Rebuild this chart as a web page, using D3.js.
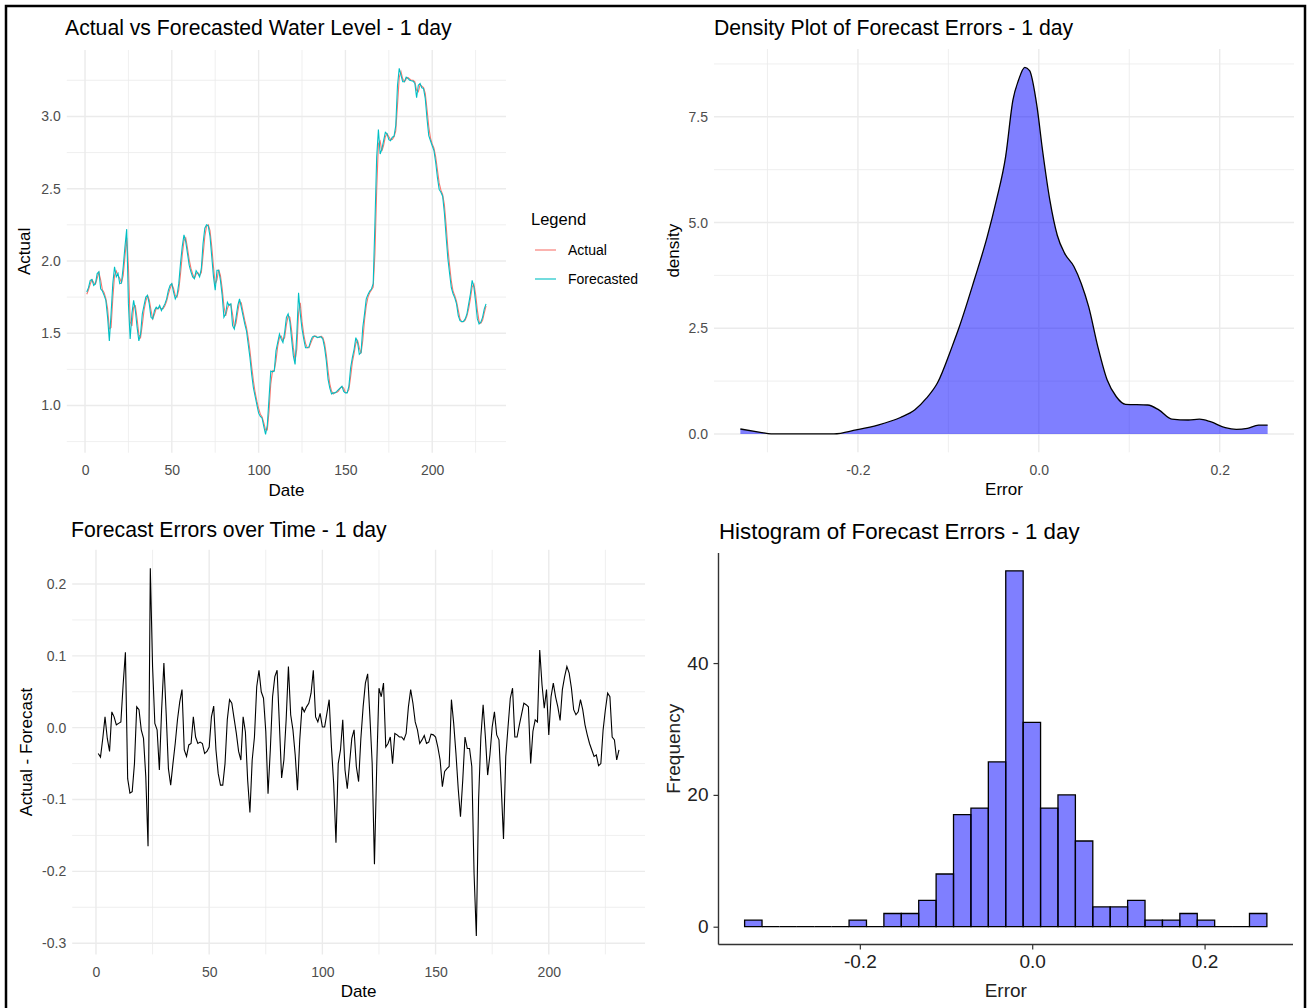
<!DOCTYPE html>
<html>
<head>
<meta charset="utf-8">
<script src="https://cdn.jsdelivr.net/npm/d3@7"></script>
<style>
  html, body { margin: 0; padding: 0; background: #fff; }
  svg { display: block; font-family: "Liberation Sans", Arial, sans-serif; }
</style>
</head>
<body>
<svg id="chart" width="1311" height="1008"></svg>
<script>
// ---- data ---------------------------------------------------------------
// Forecasted water level, days 1..231
const forecast = [
  1.785,1.815,1.866,1.871,1.831,1.843,1.913,1.925,1.808,1.792,
  1.762,1.727,1.61,1.447,1.634,1.843,1.96,1.89,1.913,1.843,
  1.848,1.96,2.10,2.22,1.703,1.46,1.634,1.727,1.657,1.54,
  1.447,1.494,1.634,1.692,1.75,1.762,1.703,1.61,1.599,1.657,
  1.68,1.669,1.692,1.657,1.68,1.703,1.738,1.797,1.831,1.843,
  1.785,1.738,1.762,1.843,1.983,2.10,2.181,2.134,2.053,1.971,
  1.925,1.89,1.878,1.932,1.913,1.89,1.948,2.122,2.227,2.25,
  2.243,2.169,2.029,1.89,1.797,1.936,1.936,1.866,1.762,1.61,
  1.634,1.715,1.692,1.703,1.552,1.529,1.61,1.692,1.738,1.68,
  1.622,1.564,1.517,1.424,1.331,1.215,1.121,1.063,1.005,0.947,
  0.924,0.912,0.854,0.80,0.865,1.052,1.238,1.233,1.238,1.378,
  1.436,1.494,1.459,1.436,1.506,1.61,1.634,1.58,1.459,1.343,
  1.284,1.494,1.78,1.634,1.529,1.459,1.40,1.40,1.405,1.447,
  1.475,1.48,1.475,1.47,1.475,1.475,1.459,1.40,1.308,1.18,
  1.121,1.08,1.087,1.087,1.098,1.11,1.121,1.133,1.098,1.087,
  1.087,1.133,1.261,1.331,1.389,1.47,1.436,1.354,1.366,1.54,
  1.634,1.738,1.768,1.792,1.806,1.843,2.262,2.716,2.91,2.74,
  2.774,2.832,2.89,2.879,2.839,2.832,2.856,2.863,2.937,3.216,
  3.333,3.286,3.24,3.24,3.272,3.263,3.251,3.247,3.244,3.228,
  3.13,3.216,3.228,3.198,3.193,3.123,2.984,2.867,2.832,2.797,
  2.763,2.681,2.576,2.495,2.476,2.448,2.332,2.169,2.018,1.913,
  1.815,1.773,1.745,1.703,1.622,1.587,1.58,1.582,1.599,1.634,
  1.703,1.773,1.866,1.82,1.715,1.599,1.564,1.576,1.61,1.668,
  1.703
];

// Observed water level, days 1..231
const actual = [
  1.77,1.80,1.84,1.87,1.85,1.84,1.88,1.92,1.87,1.80,
  1.78,1.74,1.67,1.53,1.54,1.74,1.90,1.93,1.90,1.88,
  1.85,1.90,2.03,2.16,1.96,1.58,1.55,1.68,1.69,1.60,
  1.49,1.47,1.56,1.66,1.72,1.76,1.73,1.66,1.60,1.63,
  1.67,1.67,1.68,1.67,1.67,1.69,1.72,1.77,1.81,1.84,
  1.81,1.76,1.75,1.80,1.91,2.04,2.14,2.16,2.09,2.01,
  1.95,1.91,1.88,1.91,1.92,1.90,1.92,2.04,2.17,2.24,
  2.25,2.21,2.10,1.96,1.84,1.87,1.94,1.90,1.81,1.69,
  1.62,1.67,1.70,1.70,1.63,1.54,1.57,1.65,1.72,1.71,
  1.65,1.59,1.54,1.47,1.38,1.27,1.17,1.09,1.03,0.98,
  0.94,0.92,0.88,0.83,0.83,0.96,1.15,1.24,1.24,1.31,
  1.41,1.47,1.48,1.45,1.47,1.56,1.62,1.61,1.52,1.40,
  1.31,1.39,1.64,1.71,1.58,1.49,1.43,1.40,1.40,1.43,
  1.46,1.48,1.48,1.47,1.47,1.48,1.47,1.43,1.35,1.24,
  1.15,1.10,1.08,1.09,1.09,1.10,1.12,1.13,1.12,1.09,
  1.09,1.11,1.20,1.30,1.36,1.43,1.45,1.40,1.36,1.45,
  1.59,1.69,1.75,1.78,1.80,1.82,2.05,2.49,2.81,2.83,
  2.76,2.80,2.86,2.88,2.86,2.84,2.84,2.86,2.90,3.08,
  3.27,3.31,3.26,3.24,3.26,3.27,3.26,3.25,3.25,3.24,
  3.18,3.17,3.22,3.21,3.20,3.16,3.05,2.93,2.85,2.81,
  2.78,2.72,2.63,2.54,2.49,2.46,2.39,2.25,2.09,1.97,
  1.86,1.79,1.76,1.72,1.66,1.60,1.58,1.58,1.59,1.62,
  1.67,1.74,1.82,1.84,1.77,1.66,1.58,1.57,1.59,1.64,
  1.69
];

// Actual - Forecast, days 1..231
const errors = [
  -0.036,-0.041,-0.015,0.015,-0.015,-0.033,0.022,0.015,0.004,0.006,
  0.008,0.06,0.105,-0.071,-0.091,-0.089,-0.05,0.029,0.025,-0.003,
  -0.015,-0.068,-0.165,0.222,0.085,0.006,-0.003,-0.059,0.025,0.09,
  0.02,-0.057,-0.08,-0.05,-0.022,0.011,0.036,0.053,-0.031,-0.04,
  -0.024,-0.022,0.015,-0.013,-0.022,-0.02,-0.022,-0.036,-0.033,-0.027,
  0.015,0.03,-0.031,-0.064,-0.08,-0.08,-0.05,0.011,0.039,0.034,
  0.013,-0.008,-0.033,-0.045,0.015,-0.006,-0.073,-0.118,-0.045,-0.013,
  0.057,0.08,0.05,0.041,-0.005,-0.092,-0.031,0.043,0.071,0.08,
  0.006,-0.07,-0.045,0.011,0.085,0.018,-0.003,-0.038,-0.087,-0.017,
  0.029,0.022,0.029,0.034,0.048,0.08,0.015,0.008,0.02,0.001,
  0.001,0.02,0.039,-0.027,-0.078,-0.16,-0.05,-0.031,0.011,-0.059,
  -0.085,-0.05,-0.015,-0.003,-0.054,-0.075,-0.015,0.029,0.062,0.075,
  0.015,-0.05,-0.19,-0.054,0.055,0.043,0.062,-0.027,-0.022,-0.013,
  -0.05,-0.008,-0.01,-0.013,-0.013,-0.017,-0.008,0.029,0.053,0.034,
  0.008,-0.003,-0.022,-0.017,-0.011,-0.022,-0.02,-0.009,-0.01,-0.013,
  -0.027,-0.045,-0.082,-0.061,-0.057,-0.054,0.039,0.006,-0.036,-0.085,
  -0.124,-0.073,-0.013,-0.029,-0.029,-0.054,-0.203,-0.29,-0.10,-0.013,
  0.032,-0.013,-0.066,-0.038,0.001,0.022,-0.01,-0.017,-0.082,-0.155,
  -0.04,0.001,0.041,0.055,-0.013,-0.013,0.004,0.019,0.034,0.032,
  0.029,-0.05,-0.005,0.011,0.008,0.108,0.06,0.027,0.053,-0.01,
  0.043,0.062,0.043,0.029,0.01,0.053,0.071,0.085,0.076,0.055,
  0.025,0.018,0.022,0.039,0.025,0.004,-0.01,-0.022,-0.031,-0.04,
  -0.038,-0.053,-0.05,-0.003,0.025,0.048,0.043,-0.013,-0.017,-0.045,
  -0.031
];

// Kernel density estimate of the errors (error value, density)
const densityX = [
  -0.330,-0.308,-0.296,-0.2265,-0.202,-0.178,-0.153,-0.137,-0.1245,-0.112,
  -0.096,-0.0878,-0.0714,-0.0571,-0.0469,-0.0367,-0.0286,-0.0224,-0.0155,-0.0102,
  -0.002,0.0041,0.0122,0.0204,0.0286,0.0388,0.0469,0.0551,0.0653,0.0755,
  0.0857,0.0959,0.1204,0.1327,0.147,0.1653,0.1776,0.1898,0.2061,0.2184,
  0.2306,0.2429,0.253
];
const densityY = [
  0.118,0.04,0.0,0.0,0.095,0.21,0.39,0.57,0.84,1.21,
  2.06,2.54,3.64,4.66,5.53,6.56,7.9,8.37,8.67,8.59,
  7.74,6.71,5.53,4.70,4.27,3.96,3.56,3.01,2.06,1.28,
  0.88,0.70,0.685,0.57,0.35,0.33,0.35,0.29,0.15,0.11,
  0.134,0.21,0.21
];

// Histogram of the errors: 30 equal bins
const histBinStart = -0.3337;
const histBinWidth = 0.0202;
const histCounts = [
  1,0,0,0,0,0,1,0,2,2,
  4,8,17,18,25,54,31,18,20,13,
  3,3,4,1,1,2,1,0,0,2
];

// Tick positions
const levelTicks = [1.0, 1.5, 2.0, 2.5, 3.0];
const levelMinor = [0.75, 1.25, 1.75, 2.25, 2.75, 3.25];
const dateTicks = [0, 50, 100, 150, 200];
const dateMinor = [25, 75, 125, 175, 225];
const errTicks = [-0.3, -0.2, -0.1, 0.0, 0.1, 0.2];
const errMinor = [-0.25, -0.15, -0.05, 0.05, 0.15];
const errorAxisTicks = [-0.2, 0.0, 0.2];
const errorAxisMinor = [-0.3, -0.1, 0.1];
const densTicks = [0.0, 2.5, 5.0, 7.5];
const densMinor = [1.25, 3.75, 6.25, 8.75];
const freqTicks = [0, 20, 40];

// ---- drawing ------------------------------------------------------------
const svg = d3.select("#chart");
const FONT = '"Liberation Sans", Arial, sans-serif';
const GRID = "#EBEBEB";
const TICK_TXT = "#4D4D4D";
const days = d3.range(1, forecast.length + 1);

const fmt1 = v => d3.format(".1f")(v).replace("\u2212", "-");
const expand = ([a, b]) => [a - 0.05 * (b - a), b + 0.05 * (b - a)];

svg.append("rect").attr("width", 1311).attr("height", 1008).attr("fill", "#fff");

// theme_minimal style panel: grid, tick labels, titles
function minimalPanel(o) {
  const g = svg.append("g");
  const [x0, x1] = o.x.range();
  const [yb, yt] = o.y.range();
  const inX = v => v >= o.x.domain()[0] && v <= o.x.domain()[1];
  const inY = v => v >= o.y.domain()[0] && v <= o.y.domain()[1];
  const grid = g.append("g");
  grid.selectAll(".vmin").data(o.xMinor.filter(inX)).join("line")
    .attr("x1", d => o.x(d)).attr("x2", d => o.x(d)).attr("y1", yt).attr("y2", yb)
    .attr("stroke", GRID).attr("stroke-width", 0.8);
  grid.selectAll(".hmin").data(o.yMinor.filter(inY)).join("line")
    .attr("y1", d => o.y(d)).attr("y2", d => o.y(d)).attr("x1", x0).attr("x2", x1)
    .attr("stroke", GRID).attr("stroke-width", 0.8);
  grid.selectAll(".vmaj").data(o.xTicks.filter(inX)).join("line")
    .attr("x1", d => o.x(d)).attr("x2", d => o.x(d)).attr("y1", yt).attr("y2", yb)
    .attr("stroke", GRID).attr("stroke-width", 1.4);
  grid.selectAll(".hmaj").data(o.yTicks.filter(inY)).join("line")
    .attr("y1", d => o.y(d)).attr("y2", d => o.y(d)).attr("x1", x0).attr("x2", x1)
    .attr("stroke", GRID).attr("stroke-width", 1.4);

  // axes via d3-axis, restyled to ggplot's look (no lines / ticks)
  const ax = g.append("g").attr("transform", `translate(0,${yb})`)
    .call(d3.axisBottom(o.x).tickValues(o.xTicks).tickFormat(o.xFmt).tickSize(0).tickPadding(9));
  const ay = g.append("g").attr("transform", `translate(${x0},0)`)
    .call(d3.axisLeft(o.y).tickValues(o.yTicks).tickFormat(o.yFmt).tickSize(0).tickPadding(6));
  [ax, ay].forEach(a => {
    a.select(".domain").remove();
    a.selectAll("text").attr("fill", TICK_TXT).style("font-size", "14px").style("font-family", FONT);
  });
  ax.selectAll("text").attr("dy", "0.95em");

  g.append("text").attr("x", (x0 + x1) / 2).attr("y", yb + 43)
    .attr("text-anchor", "middle").attr("font-size", 17).attr("fill", "#000").text(o.xTitle);
  g.append("text").attr("transform", `translate(${o.yTitleX},${(yt + yb) / 2}) rotate(-90)`)
    .attr("text-anchor", "middle").attr("font-size", 17).attr("fill", "#000").text(o.yTitle);
  g.append("text").attr("x", o.titleX).attr("y", o.titleY)
    .attr("font-size", 21.2).attr("fill", "#000").text(o.title);
  return g;
}

// ---- 1. Actual vs Forecasted -------------------------------------------
{
  const x = d3.scaleLinear().domain(expand(d3.extent(days))).range([66.8, 506]);
  const y = d3.scaleLinear().domain(expand(d3.extent(actual.concat(forecast)))).range([452.7, 50]);
  minimalPanel({ x, y, xTicks: dateTicks, xMinor: dateMinor, yTicks: levelTicks, yMinor: levelMinor,
    xFmt: d3.format("d"), yFmt: fmt1, xTitle: "Date", yTitle: "Actual", yTitleX: 30,
    title: "Actual vs Forecasted Water Level - 1 day", titleX: 65, titleY: 35 });
  const line = arr => d3.line().x((d, i) => x(days[i])).y(d => y(d))(arr);
  svg.append("path").attr("d", line(actual)).attr("fill", "none")
    .attr("stroke", "#F8766D").attr("stroke-width", 1.1);
  svg.append("path").attr("d", line(forecast)).attr("fill", "none")
    .attr("stroke", "#00BFC4").attr("stroke-width", 1.1);

  // legend
  const lg = svg.append("g");
  lg.append("text").attr("x", 531).attr("y", 225).attr("font-size", 16.5).attr("fill", "#000").text("Legend");
  const items = [["Actual", "#F8766D"], ["Forecasted", "#00BFC4"]];
  items.forEach(([label, col], i) => {
    const cy = 250 + i * 29;
    lg.append("line").attr("x1", 535).attr("x2", 556).attr("y1", cy).attr("y2", cy)
      .attr("stroke", col).attr("stroke-width", 1.1);
    lg.append("text").attr("x", 568).attr("y", cy + 5).attr("font-size", 14).attr("fill", "#000").text(label);
  });
}

// ---- 2. Density of errors ------------------------------------------------
{
  const x = d3.scaleLinear().domain(expand(d3.extent(densityX))).range([714, 1294]);
  const y = d3.scaleLinear().domain(expand([0, d3.max(densityY)])).range([452.3, 49]);
  minimalPanel({ x, y, xTicks: errorAxisTicks, xMinor: errorAxisMinor, yTicks: densTicks, yMinor: densMinor,
    xFmt: fmt1, yFmt: fmt1, xTitle: "Error", yTitle: "density", yTitleX: 679,
    title: "Density Plot of Forecast Errors - 1 day", titleX: 714, titleY: 35 });
  const pts = densityX.map((v, i) => [v, densityY[i]]);
  svg.append("path")
    .attr("d", d3.area().x(d => x(d[0])).y0(y(0)).y1(d => y(d[1])).curve(d3.curveMonotoneX)(pts))
    .attr("fill", "#0000FF").attr("fill-opacity", 0.5);
  svg.append("path")
    .attr("d", d3.line().x(d => x(d[0])).y(d => y(d[1])).curve(d3.curveMonotoneX)(pts))
    .attr("fill", "none").attr("stroke", "#000").attr("stroke-width", 1.3);
}

// ---- 3. Errors over time -------------------------------------------------
{
  const x = d3.scaleLinear().domain(expand(d3.extent(days))).range([72.2, 645]);
  const y = d3.scaleLinear().domain(expand(d3.extent(errors))).range([954.4, 549.8]);
  minimalPanel({ x, y, xTicks: dateTicks, xMinor: dateMinor, yTicks: errTicks, yMinor: errMinor,
    xFmt: d3.format("d"), yFmt: fmt1, xTitle: "Date", yTitle: "Actual - Forecast", yTitleX: 32,
    title: "Forecast Errors over Time - 1 day", titleX: 71, titleY: 537 });
  svg.append("path")
    .attr("d", d3.line().x((d, i) => x(days[i])).y(d => y(d))(errors))
    .attr("fill", "none").attr("stroke", "#000").attr("stroke-width", 1.1);
}

// ---- 4. Histogram (classic theme) ---------------------------------------
{
  const bins = histCounts.map((c, i) => ({
    x0: histBinStart + i * histBinWidth, x1: histBinStart + (i + 1) * histBinWidth, n: c }));
  const x = d3.scaleLinear().domain(expand([bins[0].x0, bins[bins.length - 1].x1])).range([718.5, 1293]);
  const y = d3.scaleLinear().domain(expand([0, d3.max(histCounts)])).range([944.5, 553]);
  const g = svg.append("g");
  g.selectAll("path.bar").data(bins).join("path").attr("class", "bar")
    .attr("d", d => `M${x(d.x0)},${y(0)}V${y(d.n)}H${x(d.x1)}V${y(0)}Z`)
    .attr("fill", "#0000FF").attr("fill-opacity", 0.5)
    .attr("stroke", "#000").attr("stroke-width", 1.3);

  const ax = g.append("g").attr("transform", `translate(0,${y.range()[0]})`)
    .call(d3.axisBottom(x).tickValues(errorAxisTicks).tickFormat(fmt1).tickSize(5).tickPadding(5));
  const ay = g.append("g").attr("transform", `translate(${x.range()[0]},0)`)
    .call(d3.axisLeft(y).tickValues(freqTicks).tickFormat(d3.format("d")).tickSize(5).tickPadding(5));
  [ax, ay].forEach(a => {
    a.select(".domain").attr("stroke", "#333").attr("stroke-width", 1.4);
    a.selectAll(".tick line").attr("stroke", "#333").attr("stroke-width", 1.2);
    a.selectAll("text").attr("fill", "#222").style("font-size", "19px").style("font-family", FONT);
  });
  ax.select(".domain").attr("d", `M${x.range()[0]},0H${x.range()[1]}`);
  ay.select(".domain").attr("d", `M0,${y.range()[0]}V${y.range()[1]}`);
  g.append("text").attr("x", (x.range()[0] + x.range()[1]) / 2).attr("y", 997)
    .attr("text-anchor", "middle").attr("font-size", 19).attr("fill", "#222").text("Error");
  g.append("text").attr("transform", `translate(680,${(553 + 944.5) / 2}) rotate(-90)`)
    .attr("text-anchor", "middle").attr("font-size", 19).attr("fill", "#222").text("Frequency");
  g.append("text").attr("x", 719).attr("y", 539)
    .attr("font-size", 22.3).attr("fill", "#000").text("Histogram of Forecast Errors - 1 day");
}

// outer frame
svg.append("rect").attr("x", 6).attr("y", 6).attr("width", 1299).attr("height", 1010)
  .attr("fill", "none").attr("stroke", "#000").attr("stroke-width", 2.5);
</script>
</body>
</html>
